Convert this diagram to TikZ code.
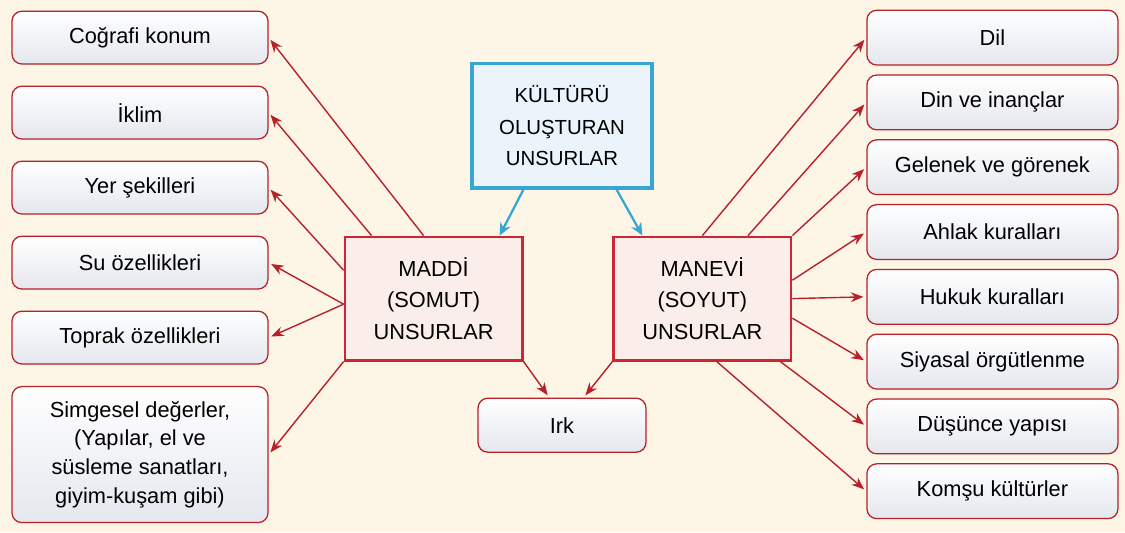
\documentclass[tikz,border=0pt]{standalone}
\usepackage{fontspec}
\setmainfont{Liberation Sans}
\usetikzlibrary{positioning,arrows.meta}
\definecolor{bgcream}{RGB}{253,246,230}
\definecolor{boxred}{RGB}{204,38,52}
\definecolor{linered}{RGB}{184,32,42}
\definecolor{skyblue}{RGB}{56,166,208}
\definecolor{paleblue}{RGB}{234,244,250}
\definecolor{palepink}{RGB}{251,237,234}
\definecolor{shadegray}{RGB}{228,231,238}
\tikzset{
  itembox/.style={draw=linered, line width=0.9pt, rounded corners=7pt, top color=white, bottom color=shadegray, align=center, font=\fontsize{15.5}{20}\selectfont},
  leftbox/.style={itembox, minimum width=6.4cm, minimum height=1.32cm},
  rightbox/.style={itembox, minimum width=6.275cm, minimum height=1.37cm},
  groupbox/.style={draw=boxred, line width=2pt, fill=palepink, align=center, minimum width=4.43cm, minimum height=3.08cm, font=\fontsize{15.5}{22.5}\selectfont},
  topicbox/.style={draw=skyblue, line width=2.2pt, fill=paleblue, align=center, minimum width=4.5cm, minimum height=3.12cm, font=\fontsize{14.5}{22.5}\selectfont},
  redarrow/.style={draw=linered, line width=1pt, shorten >=2pt, -{Stealth[length=9pt,width=7pt]}},
  bluearrow/.style={draw=skyblue, line width=1.6pt, -{Stealth[length=9pt,width=8pt]}}
}
\begin{document}
\begin{tikzpicture}
      \useasboundingbox[fill=bgcream] (0,0) rectangle (28.125,-13.3);
      \node[topicbox] (topic) at (14.05,-3.14) {KÜLTÜRÜ\\OLUŞTURAN\\UNSURLAR};
      \node[groupbox, on grid, below left=4.325cm and 3.21cm of topic] (maddi) {MADDİ\\(SOMUT)\\UNSURLAR};
      \node[groupbox, on grid, below right=4.325cm and 3.51cm of topic] (manevi) {MANEVİ\\(SOYUT)\\UNSURLAR};
      \node[itembox, on grid, below=7.49cm of topic, minimum width=4.2cm, minimum height=1.35cm] (irk) {Irk};
      \node[leftbox] (cografi) at (3.5,-0.94) {Coğrafi konum};
      \node[leftbox, on grid, below=1.875cm of cografi] (iklim) {İklim};
      \node[leftbox, on grid, below=1.875cm of iklim] (yer) {Yer şekilleri};
      \node[leftbox, on grid, below=1.875cm of yer] (su) {Su özellikleri};
      \node[leftbox, on grid, below=1.875cm of su] (toprak) {Toprak özellikleri};
      \node[leftbox, on grid, below=2.925cm of toprak, minimum height=3.4cm, font=\fontsize{15.5}{20.5}\selectfont] (simge) {Simgesel değerler,\\(Yapılar, el ve\\süsleme sanatları,\\giyim-kuşam gibi)};
      \node[rightbox] (dil) at (24.81,-0.94) {Dil};
      \node[rightbox, on grid, below=1.62cm of dil] (din) {Din ve inançlar};
      \node[rightbox, on grid, below=1.62cm of din] (gelenek) {Gelenek ve görenek};
      \node[rightbox, on grid, below=1.62cm of gelenek] (ahlak) {Ahlak kuralları};
      \node[rightbox, on grid, below=1.62cm of ahlak] (hukuk) {Hukuk kuralları};
      \node[rightbox, on grid, below=1.62cm of hukuk] (siyasal) {Siyasal örgütlenme};
      \node[rightbox, on grid, below=1.62cm of siyasal] (dusunce) {Düşünce yapısı};
      \node[rightbox, on grid, below=1.62cm of dusunce] (komsu) {Komşu kültürler};
      \draw[bluearrow] ([xshift=1.325cm]topic.south west) to ([xshift=-0.6cm]maddi.north east);
      \draw[bluearrow] ([xshift=-0.925cm]topic.south east) to ([xshift=0.75cm]manevi.north west);
      \draw[redarrow] ([xshift=2cm]maddi.north west) to (cografi.east);
      \draw[redarrow] ([xshift=0.7cm]maddi.north west) to (iklim.east);
      \draw[redarrow] ([yshift=0.71cm]maddi.west) to (yer.east);
      \draw[redarrow] ([yshift=-0.14cm]maddi.west) to (su.east);
      \draw[redarrow] ([yshift=-0.14cm]maddi.west) to (toprak.east);
      \draw[redarrow] (maddi.south west) to (simge.east);
      \draw[redarrow] (maddi.south east) to ([xshift=1.8cm]irk.north west);
      \draw[redarrow] (manevi.south west) to ([xshift=-1.575cm]irk.north east);
      \draw[redarrow] (manevi.north) to (dil.west);
      \draw[redarrow] ([xshift=1.14cm]manevi.north) to (din.west);
      \draw[redarrow] (manevi.north east) to (gelenek.west);
      \draw[redarrow] ([yshift=0.46cm]manevi.east) to (ahlak.west);
      \draw[redarrow] (manevi.east) to (hukuk.west);
      \draw[redarrow] ([yshift=-0.49cm]manevi.east) to (siyasal.west);
      \draw[redarrow] ([xshift=-0.3cm]manevi.south east) to (dusunce.west);
      \draw[redarrow] ([xshift=0.36cm]manevi.south) to (komsu.west);
    \end{tikzpicture}
\end{document}
